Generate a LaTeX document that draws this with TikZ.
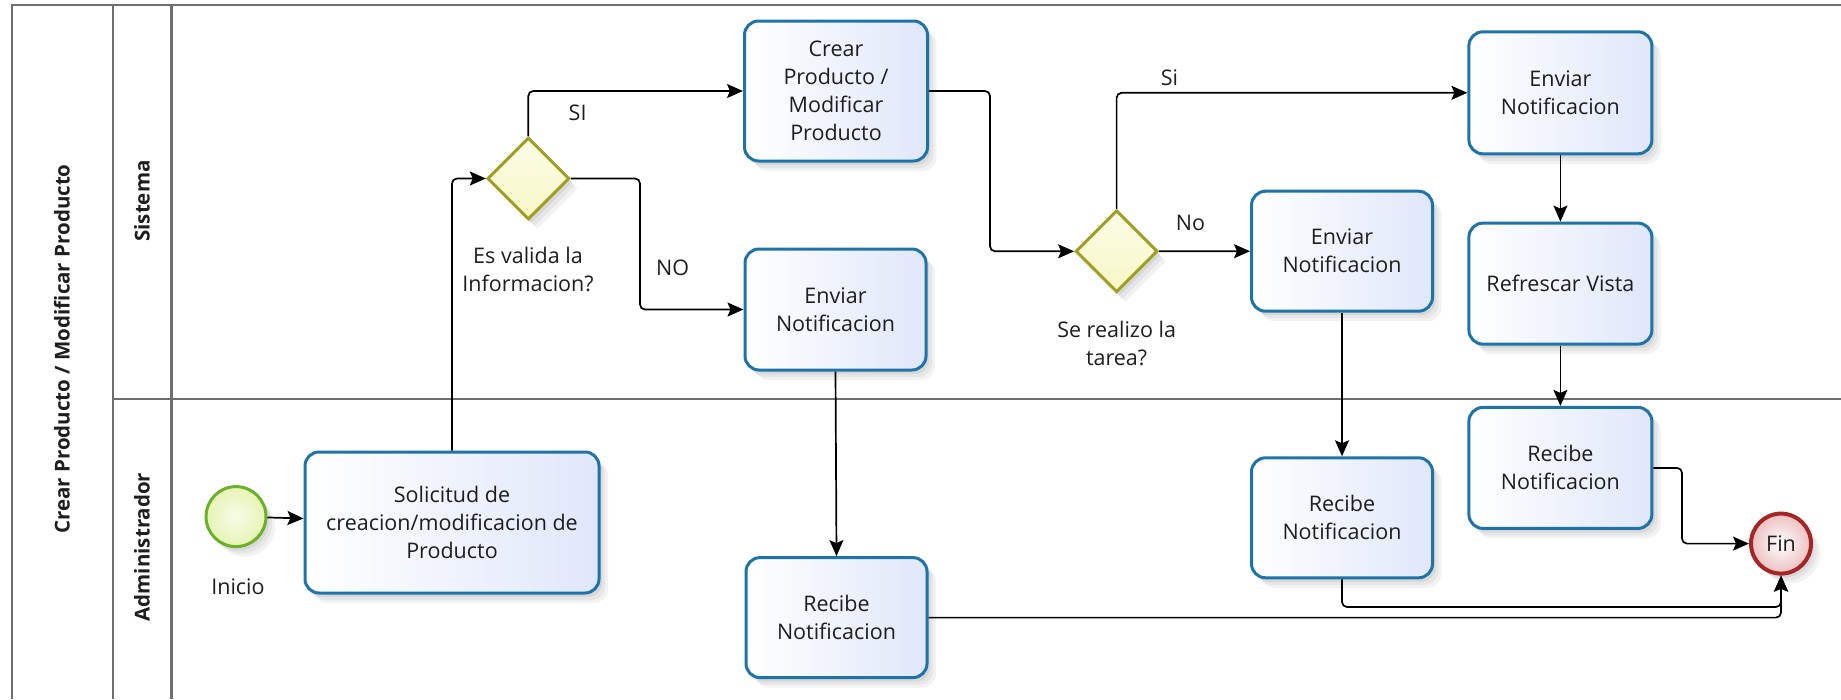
\documentclass[tikz,border=0pt]{standalone}
\usepackage{fontspec}
\setmainfont{Open Sans}
\usetikzlibrary{shapes.geometric,arrows.meta,shadows}

\definecolor{laneline}{HTML}{6E6E6E}
\definecolor{taskline}{HTML}{1E73A8}
\definecolor{taskfill}{HTML}{E0E7FA}
\definecolor{gateline}{HTML}{9FA023}
\definecolor{gatefill}{HTML}{F7F7C6}
\definecolor{startline}{HTML}{6CB02A}
\definecolor{startfill}{HTML}{E6F4B4}
\definecolor{endline}{HTML}{A52626}
\definecolor{endfill}{HTML}{ECC0C0}
\definecolor{ink}{HTML}{1E1E1E}

\begin{document}
\begin{tikzpicture}[x=1pt,y=-1pt,
  softshadow/.style={
    general shadow={shadow xshift=3pt,shadow yshift=-4pt,fill=black,opacity=.06},
    general shadow={shadow xshift=6pt,shadow yshift=-7pt,fill=black,opacity=.05},
    general shadow={shadow xshift=9pt,shadow yshift=-10pt,fill=black,opacity=.05}},
  txt/.style={text=ink,font=\fontsize{21.5}{28}\selectfont,align=center},
  task/.style={txt,rectangle,rounded corners=14pt,draw=taskline,line width=3pt,
    left color=white,right color=taskfill,softshadow,inner sep=0pt},
  gate/.style={diamond,minimum width=82pt,minimum height=82pt,inner sep=0pt,
    draw=gateline,line width=3pt,top color=white!60!gatefill,bottom color=gatefill,softshadow},
  startev/.style={circle,minimum size=60pt,inner sep=0pt,draw=startline,line width=3pt,
    inner color=white!70!startfill,outer color=startfill,softshadow},
  endev/.style={txt,circle,minimum size=60pt,inner sep=0pt,draw=endline,line width=4pt,
    inner color=white,outer color=endfill,softshadow},
  lbl/.style={txt,inner sep=0pt},
  lanetitle/.style={text=ink,font=\bfseries\fontsize{20.5}{24}\selectfont,rotate=90,inner sep=0pt},
  lane/.style={draw=laneline,line width=2.4pt},
  flow/.style={draw=black,line width=1.7pt,rounded corners=5pt,
    -{Stealth[length=16pt,width=14pt,inset=3pt]}}]

\useasboundingbox (0,0) rectangle (1841,699);

% pool and lanes
\draw[lane] (1841,4.7) -- (11.7,4.7) -- (11.7,699);
\draw[lane] (112.7,4.7) -- (112.7,699);
\draw[lane] (171.4,4.7) -- (171.4,699);
\draw[lane] (112.7,399.2) -- (1841,399.2);

\node[lanetitle] (pool) at (62,349) {Crear Producto / Modificar Producto};
\node[lanetitle] (lsis) at (142,201) {Sistema};
\node[lanetitle] (ladm) at (142,547) {Administrador};

% events
\node[startev] (start) at (236,516.6) {};
\node[lbl] (startT) at (238,587) {Inicio};
\node[endev] (fin) at (1781,543.6) {Fin};

% tasks
\node[task,minimum width=294pt,minimum height=141pt] (sol) at (452,522.5)
  {Solicitud de\\creacion/modificacion de\\Producto};
\node[task,minimum width=183pt,minimum height=140pt] (crear) at (836,91)
  {Crear\\Producto /\\Modificar\\Producto};
\node[task,minimum width=181pt,minimum height=121pt] (env1) at (835.5,309.5)
  {Enviar\\Notificacion};
\node[task,minimum width=181pt,minimum height=120pt] (rec1) at (836.5,617.6)
  {Recibe\\Notificacion};
\node[task,minimum width=181pt,minimum height=120pt] (env2) at (1342,251.2)
  {Enviar\\Notificacion};
\node[task,minimum width=181pt,minimum height=120pt] (rec2) at (1342,517.8)
  {Recibe\\Notificacion};
\node[task,minimum width=183pt,minimum height=122pt] (env3) at (1560.4,92.8)
  {Enviar\\Notificacion};
\node[task,minimum width=183pt,minimum height=121pt] (refr) at (1560.4,283.6)
  {Refrescar Vista};
\node[task,minimum width=183pt,minimum height=121pt] (rec3) at (1560.4,467.9)
  {Recibe\\Notificacion};

% gateways
\node[gate] (d1) at (528.3,178.5) {};
\node[gate] (d2) at (1116.6,251.3) {};
\node[lbl] (q1) at (528,269.5) {Es valida la\\Informacion?};
\node[lbl] (q2) at (1116.6,343) {Se realizo la\\tarea?};

% flow labels
\node[lbl] (siA) at (577.6,112.7) {SI};
\node[lbl] (noA) at (672.7,267.7) {NO};
\node[lbl] (noB) at (1190.5,223) {No};
\node[lbl] (siB) at (1169.4,77.5) {Si};

% bend columns / rows of the routed flows
\coordinate (k1) at (640,0);
\coordinate (k2) at (990,0);
\coordinate (k3) at (1682,0);
\coordinate (k4) at (0,607);

% sequence flows
\draw[flow] (start) -- (sol);
\draw[flow] (sol.north) |- (d1.west);
\draw[flow] (d1.north) |- (crear.west);
\draw[flow] (d1.east) -| (k1 |- env1.west) -- (env1.west);
\draw[flow] (crear.east) -| (k2 |- d2.west) -- (d2.west);
\draw[flow] (d2.north) |- (env3.west);
\draw[flow] (d2.east) -- (env2.west);
\draw[flow] (env1.south) -- (rec1.north);
\draw[flow] (env2.south) -- (rec2.north);
\draw[flow] (env3) -- (refr);
\draw[flow] (refr) -- (rec3);
\draw[flow] (rec3.east) -| (k3 |- fin.west) -- (fin.west);
\draw[flow] (rec2.south) |- (fin.south |- k4) -- (fin.south);
\draw[flow] (rec1.east) -- (fin.south |- rec1.east) -- (fin.south);
\end{tikzpicture}
\end{document}
